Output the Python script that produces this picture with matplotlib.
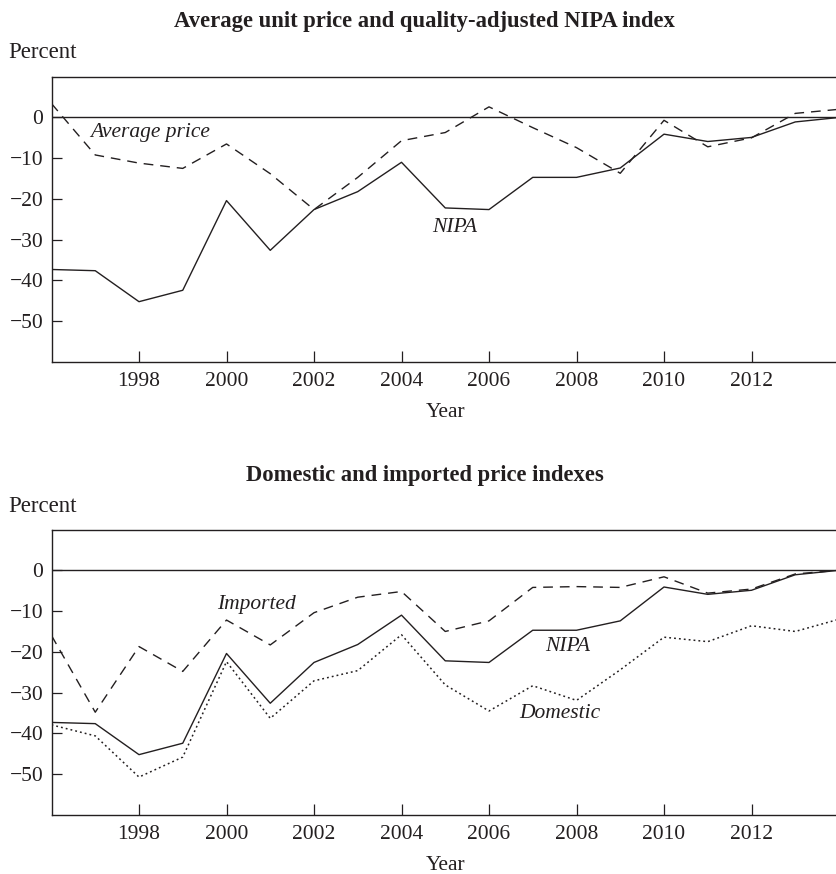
import matplotlib
matplotlib.use("Agg")
import matplotlib.pyplot as plt

plt.rcParams["font.family"] = ["Liberation Serif", "DejaVu Serif"]

years = list(range(1996, 2015))

nipa = [-37.3, -37.6, -45.2, -42.4, -20.4, -32.6, -22.6, -18.2, -11.0,
        -22.2, -22.6, -14.7, -14.7, -12.4, -4.1, -5.9, -4.9, -1.1, 0.0]
average_price = [3.4, -9.2, -11.2, -12.5, -6.5, -13.8, -22.6, -14.7, -5.7,
                 -3.7, 2.6, -2.5, -7.4, -13.7, -0.7, -7.2, -5.0, 1.0, 2.0]
imported = [-16.0, -34.8, -18.7, -24.8, -12.2, -18.3, -10.4, -6.6, -5.2,
            -15.0, -12.4, -4.2, -4.0, -4.2, -1.6, -5.6, -4.6, -0.9, 0.0]
domestic = [-37.9, -40.6, -50.7, -45.8, -22.4, -36.3, -27.1, -24.6, -15.8,
            -28.1, -34.5, -28.3, -31.9, -24.4, -16.4, -17.5, -13.6, -15.0, -12.0]

x_ticks = [1998, 2000, 2002, 2004, 2006, 2008, 2010, 2012]
y_ticks = [0, -10, -20, -30, -40, -50]

W, H = 836, 874
fig = plt.figure(figsize=(W / 100, H / 100), dpi=100)

FS = 15.5
INK = "#231f20"


def px_axes(left, top, right, bottom):
    return fig.add_axes([left / W, 1 - bottom / H, (right - left) / W, (bottom - top) / H])


def style(ax):
    ax.set_xlim(1996, 2014)
    ax.set_ylim(-60, 10)
    ax.set_xticks(x_ticks)
    ax.set_yticks(y_ticks)
    ax.set_yticklabels(["0" if v == 0 else "\u2212%d" % abs(v) for v in y_ticks])
    ax.tick_params(direction="in", length=8, width=0.9, labelsize=FS, colors=INK,
                   pad=7, top=False, right=False)
    ax.tick_params(axis="y", length=7, pad=6)
    for s in ax.spines.values():
        s.set_linewidth(1.0)
        s.set_color(INK)
    ax.axhline(0, color=INK, lw=1.0)
    ax.set_xlabel("Year", fontsize=FS, color=INK, labelpad=9)


solid = dict(color=INK, lw=1.0, ls="-")
dashed = dict(color=INK, lw=1.0, ls=(0, (7, 5)))
dotted = dict(color=INK, lw=1.1, ls=(0, (1.2, 2.0)))

# Upper panel
ax1 = px_axes(51.5, 76.7, 839, 362)
style(ax1)
ax1.plot(years, nipa, **solid)
ax1.plot(years, average_price, **dashed)
ax1.text(1996.88, -3.7, "Average price", style="italic", fontsize=FS, color=INK,
         ha="left", va="center")
ax1.text(2005.22, -26.9, "NIPA", style="italic", fontsize=FS, color=INK,
         ha="center", va="center")

# Lower panel
ax2 = px_axes(51.5, 529.5, 839, 815)
style(ax2)
ax2.plot(years, nipa, **solid)
ax2.plot(years, imported, **dashed)
ax2.plot(years, domestic, **dotted)
ax2.text(2000.69, -8.3, "Imported", style="italic", fontsize=FS, color=INK,
         ha="center", va="center")
ax2.text(2007.79, -18.7, "NIPA", style="italic", fontsize=FS, color=INK,
         ha="center", va="center")
ax2.text(2007.62, -35.0, "Domestic", style="italic", fontsize=FS, color=INK,
         ha="center", va="center")

# Titles and unit labels
TS = 16.3
fig.text(424.5 / W, 1 - 22 / H, "Average unit price and quality-adjusted NIPA index",
         fontsize=TS, fontweight="bold", color=INK, ha="center", va="center")
fig.text(424.5 / W, 1 - 476 / H, "Domestic and imported price indexes",
         fontsize=TS, fontweight="bold", color=INK, ha="center", va="center")
fig.text(8 / W, 1 - 53 / H, "Percent", fontsize=16.5, color=INK, ha="left", va="center")
fig.text(8 / W, 1 - 507 / H, "Percent", fontsize=16.5, color=INK, ha="left", va="center")

fig.savefig("out.png", dpi=100)
